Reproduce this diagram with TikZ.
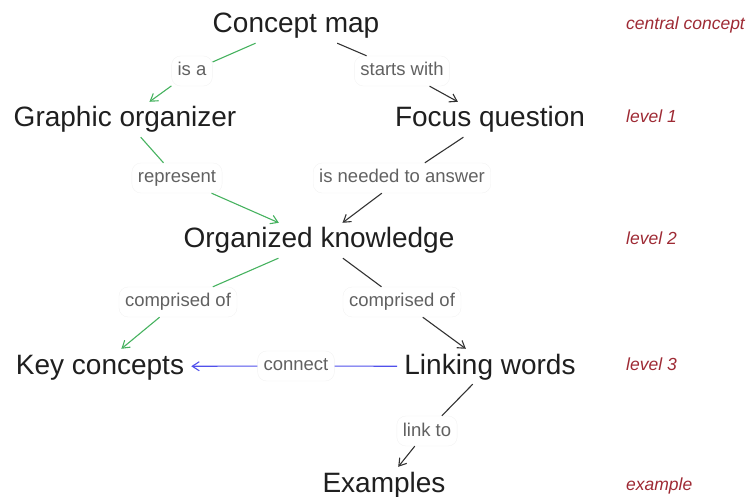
\documentclass[tikz,border=0pt]{standalone}
\usepackage{fontspec}
\usetikzlibrary{arrows.meta}
\setmainfont{Liberation Sans}
\definecolor{isagreen}{RGB}{70,178,95}
\definecolor{linkgray}{RGB}{50,50,50}
\definecolor{connblue}{RGB}{80,80,235}
\definecolor{levelred}{RGB}{158,42,52}
\begin{document}
\begin{tikzpicture}[x=1pt, y=-1pt, >={Straight Barb[length=7pt,width=9pt]},
		concept/.style={anchor=base, inner xsep=7pt, inner ysep=4pt, text height=21pt, text depth=6pt, text=black!88, font=\fontsize{28}{30}\selectfont},
		linkword/.style={anchor=base, inner sep=6pt, text height=14pt, text depth=4pt, rounded corners=9pt, draw=black!5, text=black!62, font=\fontsize{18.5}{20}\selectfont},
		level/.style={anchor=base west, inner sep=0pt, text=levelred, font=\fontsize{17.5}{19}\selectfont\itshape},
		gline/.style={isagreen, line width=1.1pt},
		kline/.style={linkgray, line width=1.1pt},
		bline/.style={connblue, line width=1.1pt}]
		
		\useasboundingbox (0,0) rectangle (756,497);
		
		\node[concept] (cmap) at (296,33) {Concept map};
		\node[concept] (graphic) at (125,127) {Graphic organizer};
		\node[concept] (focus) at (490,127) {Focus question};
		\node[concept] (know) at (319,248) {Organized knowledge};
		\node[concept] (key) at (100,374) {Key concepts};
		\node[concept] (linking) at (490,374) {Linking words};
		\node[concept] (examples) at (384,492) {Examples};
		
		\node[linkword] (isa) at (192,76) {is a};
		\node[linkword] (starts) at (402,76) {starts with};
		\node[linkword] (repr) at (177,183) {represent};
		\node[linkword] (needed) at (402,183) {is needed to answer};
		\node[linkword] (compl) at (178,307) {comprised of};
		\node[linkword] (compr) at (402,307) {comprised of};
		\node[linkword] (conn) at (296,371) {connect};
		\node[linkword] (linkto) at (427,436) {link to};
		
		\node[level] (lc) at (626,30) {central concept};
		\node[level] (l1) at (626,123) {level 1};
		\node[level] (l2) at (626,245) {level 2};
		\node[level] (l3) at (626,371) {level 3};
		\node[level] (lex) at (626,490) {example};
		
		\draw[gline] (cmap) -- (isa);
		\draw[gline, ->] (isa) -- (graphic);
		\draw[kline] (cmap) -- (starts);
		\draw[kline, ->] (starts) -- (focus);
		
		\draw[gline] (graphic) -- (repr);
		\draw[gline, ->] (repr) -- (know);
		\draw[kline] (focus) -- (needed);
		\draw[kline, ->] (needed) -- (know);
		
		\draw[gline] (know) -- (compl);
		\draw[gline, ->] (compl) -- (key);
		\draw[kline] (know) -- (compr);
		\draw[kline, ->] (compr) -- (linking);
		
		\draw[bline] (linking) -- (conn);
		\draw[bline, ->] (conn) -- (key);
		\draw[kline] (linking) -- (linkto);
		\draw[kline, ->] (linkto) -- (examples);
	\end{tikzpicture}
\end{document}
